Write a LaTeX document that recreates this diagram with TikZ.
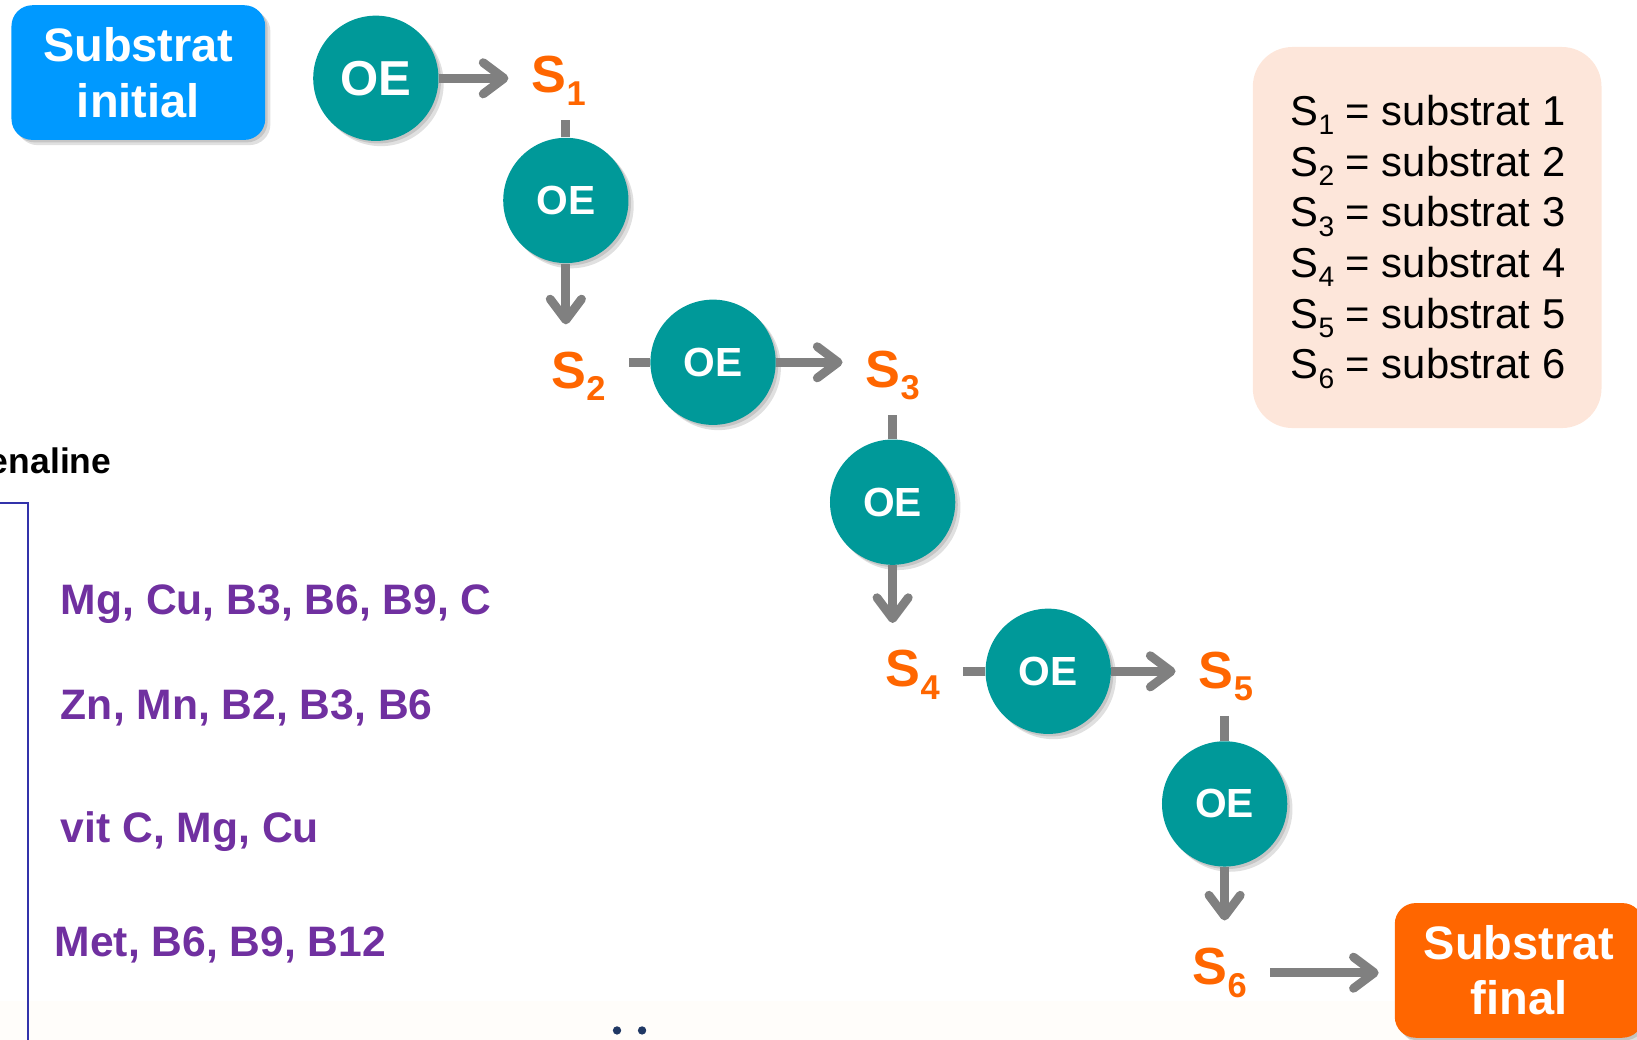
\documentclass[tikz,border=0pt]{standalone}
\usepackage{fontspec}
\setmainfont{Liberation Sans}
\usetikzlibrary{arrows.meta,shadows}
\definecolor{cBlue}{RGB}{0,153,255}
\definecolor{cTeal}{RGB}{0,153,153}
\definecolor{cOrange}{RGB}{255,102,0}
\definecolor{cGray}{RGB}{128,128,128}
\definecolor{cLegend}{RGB}{253,230,218}
\definecolor{cPurple}{RGB}{112,48,160}
\definecolor{cLine}{RGB}{51,51,170}
\definecolor{cCream}{RGB}{255,253,250}
\definecolor{cNavy}{RGB}{32,56,100}
\newcommand{\Ssub}[1]{S\raisebox{-6pt}{\fontsize{16.5}{18}\selectfont #1}}
\newcommand{\Lsub}[1]{S\raisebox{-4.5pt}{\fontsize{13.5}{15}\selectfont #1}}
\begin{document}
\begin{tikzpicture}[x=0.5pt,y=-0.5pt,
  shad/.style={drop shadow={opacity=0.12,shadow xshift=2.5pt,shadow yshift=-2.5pt,fill=black},
               drop shadow={opacity=0.12,shadow xshift=1.2pt,shadow yshift=-1.2pt,fill=black}},
  oe/.style={circle,fill=cTeal,minimum size=60pt,inner sep=0pt,text=white,
    font=\fontsize{19.5}{22}\selectfont\bfseries,shad},
  slab/.style={text=cOrange,font=\fontsize{25}{30}\selectfont\bfseries,
    inner xsep=11pt,inner ysep=7pt,anchor=base west},
  endbox/.style={rounded corners=10pt,text=white,align=center,inner sep=0pt,
    font=\fontsize{22.5}{26.5}\selectfont\bfseries,shad},
  arr/.style={draw=cGray,line width=4.2pt,-{Straight Barb[length=10pt,width=15pt,round]}},
  lin/.style={draw=cGray,line width=4.2pt},
  legtext/.style={font=\fontsize{20}{22}\selectfont,anchor=base west,inner sep=0pt},
  vit/.style={text=cPurple,font=\fontsize{20.4}{24}\selectfont\bfseries,anchor=base west,inner sep=0pt},
  dot/.style={circle,fill=cNavy,minimum size=4pt,inner sep=0pt}
]
\useasboundingbox (0,0) rectangle (1568,996);
\clip (0,0) rectangle (1568,996);
% faint bottom band
\fill[cCream] (0,959) rectangle (1568,996);

% left partial box and texts
\node[font=\fontsize{17}{20}\selectfont\bfseries,anchor=base east,inner sep=0pt] (title) at (107,454) {enaline};
\coordinate (bxA) at (0,482);
\coordinate (bxB) at (27,482);
\coordinate (bxC) at (27,1000);
\draw[cLine,line width=0.8pt] (bxA) -- (bxB) -- (bxC);
\node[vit] (v1) at (58,589) {Mg, Cu, B3, B6, B9, C};
\node[vit] (v2) at (58,689) {Zn, Mn, B2, B3, B6};
\node[vit] (v3) at (58,807) {vit C, Mg, Cu};
\node[vit] (v4) at (52,916) {Met, B6, B9, B12};

% dots at bottom
\node[dot] (d1) at (591,987) {};
\node[dot] (d2) at (615,987) {};
\node[dot,fill=cNavy!60] (d3) at (578,1001) {};
\node[dot,fill=cNavy!60] (d4) at (602,1001) {};
\node[dot,fill=cNavy!60] (d5) at (626,1001) {};
\node[dot,fill=cNavy!60] (d6) at (651,1001) {};

% legend
\node[fill=cLegend,rounded corners=19pt,minimum width=167pt,minimum height=182.5pt,inner sep=0pt] (legend) at (1367,227.5) {};
\node[legtext] (l1) at (1236,120) {\Lsub{1} = substrat 1};
\node[legtext] (l2) at (1236,168.6) {\Lsub{2} = substrat 2};
\node[legtext] (l3) at (1236,217.2) {\Lsub{3} = substrat 3};
\node[legtext] (l4) at (1236,265.8) {\Lsub{4} = substrat 4};
\node[legtext] (l5) at (1236,314.4) {\Lsub{5} = substrat 5};
\node[legtext] (l6) at (1236,363) {\Lsub{6} = substrat 6};

% start / end boxes
\node[endbox,fill=cBlue,minimum width=121.5pt,minimum height=64.5pt] (init) at (132.5,69.5) {Substrat\\initial};
\node[endbox,fill=cOrange,minimum width=119pt,minimum height=64.5pt] (final) at (1455,929.5) {Substrat\\final};

% enzymes
\node[oe,font=\fontsize{23.5}{26}\selectfont\bfseries] (oe1) at (360,75) {OE};
\node[oe] (oe2) at (542,192) {OE};
\node[oe] (oe3) at (683,347) {OE};
\node[oe] (oe4) at (855,481) {OE};
\node[oe] (oe5) at (1004,643) {OE};
\node[oe] (oe6) at (1173,770) {OE};

% substrates
\node[slab] (s1) at (487,89) {\Ssub{1}};
\node[slab] (s2) at (506,372) {\Ssub{2}};
\node[slab] (s3) at (807,371) {\Ssub{3}};
\node[slab] (s4) at (826,658) {\Ssub{4}};
\node[slab] (s5) at (1126,659) {\Ssub{5}};
\node[slab] (s6) at (1120,943) {\Ssub{6}};

% connectors
\draw[arr] (oe1.east) -- (oe1.east -| s1.west);
\draw[lin] (oe2.north |- s1.south) -- (oe2.north);
\draw[arr,shorten >=6pt] (oe2.south) -- (oe2.south |- s2.north);
\draw[lin] (s2.east |- oe3.west) -- (oe3.west);
\draw[arr] (oe3.east) -- (oe3.east -| s3.west);
\draw[lin] (oe4.north |- s3.south) -- (oe4.north);
\draw[arr,shorten >=6pt] (oe4.south) -- (oe4.south |- s4.north);
\draw[lin] (s4.east |- oe5.west) -- (oe5.west);
\draw[arr] (oe5.east) -- (oe5.east -| s5.west);
\draw[lin] (oe6.north |- s5.south) -- (oe6.north);
\draw[arr,shorten >=6pt] (oe6.south) -- (oe6.south |- s6.north);
\draw[arr,shorten >=7.5pt] (s6.east) -- (s6.east -| final.west);
\end{tikzpicture}
\end{document}
